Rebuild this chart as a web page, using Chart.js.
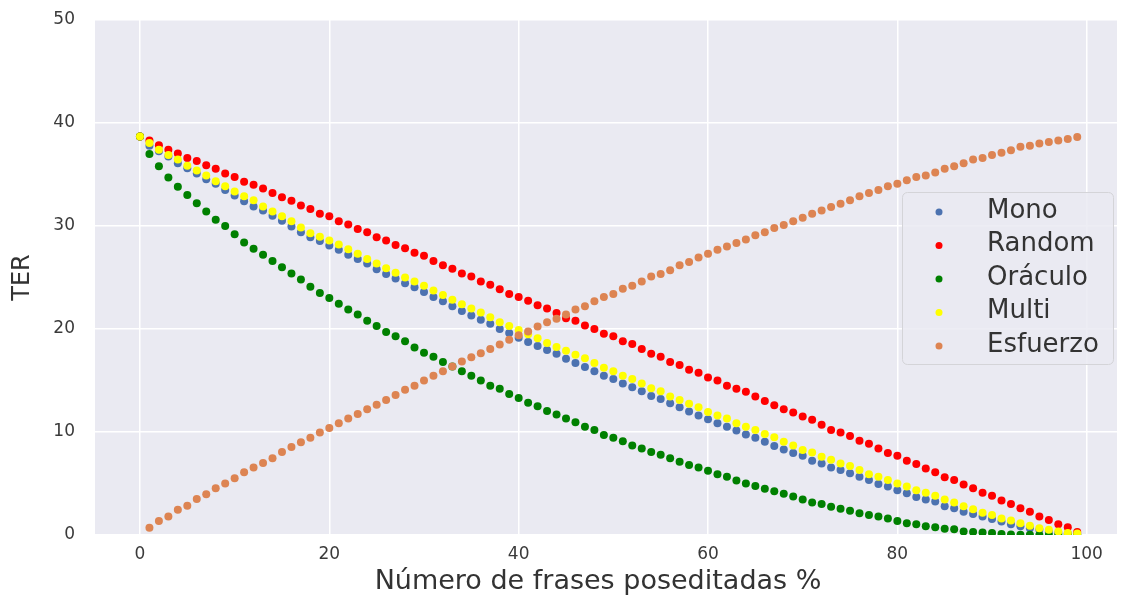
<!DOCTYPE html>
<html>
<head>
<meta charset="utf-8">
<script src="https://cdn.jsdelivr.net/npm/chart.js@4.4.1/dist/chart.umd.min.js"></script>
<style>
  html, body { margin: 0; padding: 0; background: #fff; }
  #wrap { width: 1121px; height: 597px; }
</style>
</head>
<body>
<div id="wrap"><canvas id="terChart" width="1121" height="597"></canvas></div>
<script>
const pct = [0,1,2,3,4,5,6,7,8,9,10,11,12,13,14,15,16,17,18,19,20,21,22,23,24,25,26,27,28,29,30,31,32,33,34,35,36,37,38,39,40,41,42,43,44,45,46,47,48,49,50,51,52,53,54,55,56,57,58,59,60,61,62,63,64,65,66,67,68,69,70,71,72,73,74,75,76,77,78,79,80,81,82,83,84,85,86,87,88,89,90,91,92,93,94,95,96,97,98,99];

const mono = [38.7,37.8,37.25,36.75,36.1,35.6,35.1,34.55,34.1,33.5,32.95,32.4,31.9,31.5,31.0,30.5,29.95,29.4,28.9,28.55,28.1,27.7,27.2,26.8,26.35,25.8,25.35,24.9,24.45,24.05,23.6,23.1,22.7,22.2,21.75,21.3,20.9,20.5,20.0,19.6,19.15,18.75,18.35,17.95,17.6,17.1,16.7,16.3,15.9,15.45,15.15,14.7,14.35,13.95,13.5,13.2,12.8,12.4,12.0,11.6,11.25,10.85,10.5,10.15,9.75,9.45,9.05,8.65,8.3,7.95,7.7,7.2,6.95,6.55,6.3,6.0,5.65,5.35,4.95,4.7,4.35,4.05,3.7,3.45,3.25,2.8,2.6,2.25,2.05,1.8,1.55,1.3,1.05,0.85,0.65,0.5,0.3,0.2,0.15,0.1];

const random = [38.7,38.3,37.85,37.4,37.05,36.6,36.3,35.9,35.55,35.1,34.75,34.3,34.0,33.65,33.2,32.8,32.45,32.0,31.65,31.2,30.95,30.45,30.15,29.7,29.4,28.9,28.6,28.15,27.85,27.4,27.1,26.6,26.2,25.85,25.4,25.1,24.6,24.3,23.85,23.4,23.1,22.75,22.3,22.0,21.55,21.05,20.8,20.35,20.0,19.55,19.3,18.8,18.55,18.05,17.6,17.3,16.8,16.5,16.05,15.75,15.3,15.0,14.5,14.2,13.9,13.45,13.0,12.6,12.2,11.9,11.5,11.2,10.7,10.2,9.95,9.6,9.15,8.85,8.4,7.95,7.7,7.2,6.9,6.45,6.1,5.6,5.35,4.9,4.55,4.1,3.8,3.35,3.0,2.6,2.25,1.8,1.45,1.05,0.75,0.3];

const oraculo = [38.7,37.0,35.8,34.7,33.8,33.0,32.2,31.4,30.6,30.0,29.2,28.4,27.8,27.2,26.6,26.0,25.4,24.8,24.1,23.5,23.0,22.45,21.9,21.4,20.8,20.3,19.7,19.3,18.8,18.2,17.7,17.3,16.8,16.35,15.9,15.45,15.0,14.5,14.2,13.7,13.3,12.85,12.5,12.05,11.7,11.3,10.95,10.5,10.2,9.7,9.45,9.1,8.7,8.4,8.05,7.8,7.45,7.1,6.8,6.55,6.25,5.9,5.65,5.3,5.0,4.75,4.5,4.25,4.0,3.75,3.45,3.15,3.0,2.75,2.55,2.35,2.1,1.95,1.8,1.6,1.35,1.15,1.05,0.85,0.75,0.6,0.55,0.35,0.3,0.25,0.2,0.1,0.05,0.03,0.02,0.01,0,0,0,0];

const multi = [38.7,38.05,37.4,36.9,36.45,35.85,35.4,34.9,34.35,33.85,33.35,32.9,32.5,31.9,31.4,30.95,30.45,29.85,29.3,28.95,28.6,28.2,27.75,27.3,26.8,26.35,25.9,25.45,25.0,24.6,24.2,23.75,23.3,22.85,22.4,22.0,21.6,21.15,20.65,20.3,19.9,19.5,19.1,18.65,18.25,17.9,17.5,17.15,16.7,16.25,15.9,15.45,15.15,14.7,14.25,13.95,13.45,13.1,12.75,12.4,11.95,11.6,11.3,10.85,10.5,10.2,9.8,9.5,9.05,8.7,8.25,8.0,7.6,7.3,6.95,6.7,6.3,5.9,5.65,5.35,5.0,4.7,4.35,4.1,3.8,3.45,3.15,2.8,2.5,2.15,1.95,1.6,1.4,1.15,0.9,0.65,0.5,0.35,0.2,0.15];

const esfuerzo = [null,0.7,1.35,1.8,2.45,2.85,3.5,3.95,4.55,5.0,5.5,6.1,6.55,7.0,7.45,8.05,8.55,9.0,9.45,9.95,10.4,10.85,11.3,11.75,12.2,12.65,13.1,13.6,14.1,14.5,15.0,15.45,15.9,16.35,16.85,17.25,17.65,18.05,18.5,18.95,19.4,19.75,20.25,20.65,21.0,21.4,21.9,22.2,22.7,23.1,23.4,23.9,24.2,24.6,25.1,25.35,25.7,26.2,26.5,26.95,27.3,27.7,28.0,28.35,28.7,29.1,29.4,29.8,30.1,30.45,30.8,31.2,31.5,31.85,32.15,32.5,32.9,33.2,33.5,33.85,34.1,34.45,34.75,34.9,35.2,35.55,35.8,36.1,36.45,36.6,36.9,37.1,37.35,37.7,37.8,38.0,38.15,38.3,38.45,38.65];

const seriesNames = ["Mono", "Random", "Oráculo", "Multi", "Esfuerzo"];
const seriesColors = ["#4c72b0", "#ff0000", "#008000", "#ffff00", "#dd8452"];
const xTicks = [0, 20, 40, 60, 80, 100];
const yTicks = [0, 10, 20, 30, 40, 50];
const xTitle = "Número de frases poseditadas %";

function points(values) {
  const out = [];
  pct.forEach((x, i) => {
    if (values[i] !== null) out.push({x: x, y: values[i]});
  });
  return out;
}

const allValues = [mono, random, oraculo, multi, esfuerzo];
// later series sit on top, like matplotlib; chart.js puts low order on top
const datasets = allValues.map((vals, i) => ({
  label: seriesNames[i],
  data: points(vals),
  backgroundColor: seriesColors[i],
  borderWidth: 0,
  pointRadius: 4,
  pointHoverRadius: 4,
  order: allValues.length - i,
  clip: 0
}));

// tick padding otherwise leaks into the layout and shrinks the plot
function noEdgePad(s) {
  s.paddingTop = 0; s.paddingBottom = 0; s.paddingLeft = 0; s.paddingRight = 0;
}

const plotBg = {
  id: "plotBg",
  beforeDraw(chart) {
    const {ctx, chartArea: a} = chart;
    ctx.save();
    ctx.fillStyle = "#eaeaf2";
    ctx.fillRect(a.left, a.top, a.right - a.left, a.bottom - a.top);
    ctx.restore();
  }
};

// x title sits a bit left of the plot centre in the original, so draw it by hand
const xLabel = {
  id: "xLabel",
  afterDraw(chart) {
    const ctx = chart.ctx;
    ctx.save();
    ctx.font = "27px 'DejaVu Sans'";
    ctx.fillStyle = "#333333";
    ctx.textAlign = "center";
    ctx.textBaseline = "middle";
    ctx.fillText(xTitle, 598, 582);
    ctx.restore();
  }
};

const boxLegend = {
  id: "boxLegend",
  afterDatasetsDraw(chart) {
    const ctx = chart.ctx;
    const x0 = 902, y0 = 192, w = 211, h = 172;
    ctx.save();
    ctx.beginPath();
    ctx.roundRect(x0 + 0.5, y0 + 0.5, w, h, 5);
    ctx.fillStyle = "rgba(234,234,242,0.85)";
    ctx.fill();
    ctx.strokeStyle = "#d4d4d8";
    ctx.lineWidth = 1;
    ctx.stroke();
    ctx.font = "26px 'DejaVu Sans'";
    ctx.textBaseline = "middle";
    chart.data.datasets.forEach((ds, i) => {
      const cy = 211 + i * 33.5;
      ctx.beginPath();
      ctx.arc(939, cy + 1, 3.5, 0, Math.PI * 2);
      ctx.fillStyle = ds.backgroundColor;
      ctx.fill();
      ctx.fillStyle = "#333333";
      ctx.fillText(ds.label, 987, cy);
    });
    ctx.restore();
  }
};

new Chart(document.getElementById("terChart"), {
  type: "scatter",
  data: { datasets },
  plugins: [plotBg, xLabel, boxLegend],
  options: {
    responsive: false,
    animation: false,
    layout: { padding: { top: 20, right: 0, left: 0, bottom: 0 } },
    plugins: { legend: { display: false }, tooltip: { enabled: false } },
    scales: {
      x: {
        type: "linear",
        min: -4.75,
        max: 103.2,
        afterBuildTicks: s => { s.ticks = xTicks.map(v => ({value: v})); },
        afterFit: s => { s.height = 62; noEdgePad(s); },
        grid: { color: "#ffffff", lineWidth: 1.5, drawTicks: false },
        border: { display: false },
        ticks: { color: "#3a3a3a", font: { family: "DejaVu Sans", size: 17 }, padding: 9 },
        title: { display: false }
      },
      y: {
        min: 0,
        max: 50,
        afterBuildTicks: s => { s.ticks = yTicks.map(v => ({value: v})); },
        afterFit: s => { s.width = 95; noEdgePad(s); },
        grid: { color: "#ffffff", lineWidth: 1.5, drawTicks: false },
        border: { display: false },
        ticks: { color: "#3a3a3a", font: { family: "DejaVu Sans", size: 17 }, padding: 20 },
        title: { display: true, text: "TER", color: "#333333",
                 font: { family: "DejaVu Sans", size: 24 }, padding: { top: 8, bottom: 0 } }
      }
    }
  }
});
</script>
</body>
</html>
